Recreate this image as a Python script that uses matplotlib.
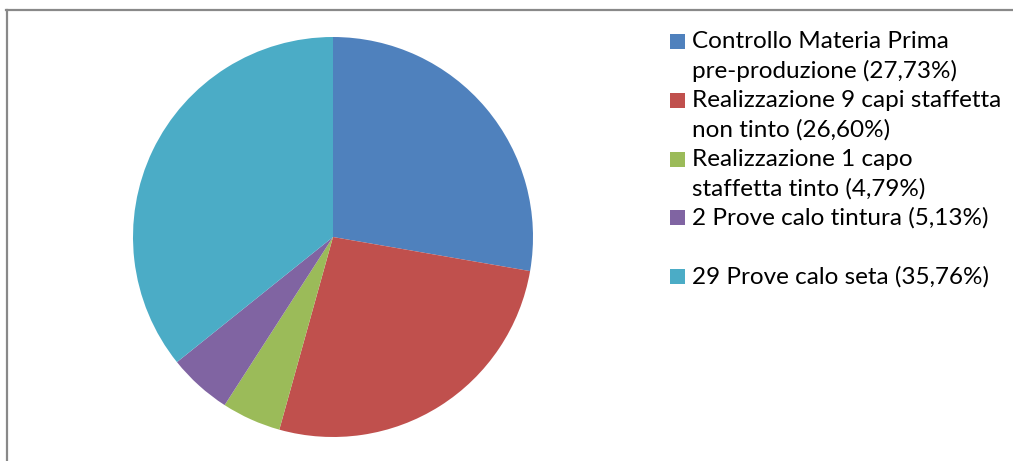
import matplotlib
matplotlib.use("Agg")
import matplotlib.pyplot as plt
from matplotlib.patches import Rectangle
from matplotlib.lines import Line2D

# Ripartizione dei costi per attività
labels = [
    "Controllo Materia Prima\npre-produzione (27,73%)",
    "Realizzazione 9 capi staffetta\nnon tinto (26,60%)",
    "Realizzazione 1 capo\nstaffetta tinto (4,79%)",
    "2 Prove calo tintura (5,13%)\n",
    "29 Prove calo seta (35,76%)",
]
values = [27.73, 26.60, 4.79, 5.13, 35.76]
colors = ["#4F81BD", "#C0504D", "#9BBB59", "#8064A2", "#4BACC6"]

W, H = 1013, 461
fig = plt.figure(figsize=(W / 100, H / 100), dpi=100)

def fx(px):
    return px / W

def fy(py):
    return 1 - py / H

# pie area
ax = fig.add_axes([fx(133), fy(437), 400 / W, 400 / H])
ax.pie(values, colors=colors, startangle=90, counterclock=False,
       wedgeprops=dict(linewidth=0))
ax.set_xlim(-1, 1)
ax.set_ylim(-1, 1)
ax.set_aspect("equal")
ax.axis("off")

# outer frame (only top and left visible)
fig.add_artist(Line2D([fx(6), 1.01], [fy(10), fy(10)], transform=fig.transFigure,
                      color="#898989", lw=1.6))
fig.add_artist(Line2D([fx(7), fx(7)], [fy(10), -0.01], transform=fig.transFigure,
                      color="#898989", lw=1.6))

# legend drawn by hand
line_h = 29.3
y = 42
for lab, col in zip(labels, colors):
    fig.add_artist(Rectangle((fx(670), fy(y + 7.5)), 15 / W, 15 / H,
                             transform=fig.transFigure, facecolor=col,
                             edgecolor="none"))
    for i, part in enumerate(lab.split("\n")):
        fig.text(fx(692), fy(y + i * line_h), part, fontsize=17.5,
                 family="Lato", color="#000000", va="center", ha="left")
    y += line_h * len(lab.split("\n"))

fig.savefig("out.png", dpi=100, facecolor="white")
